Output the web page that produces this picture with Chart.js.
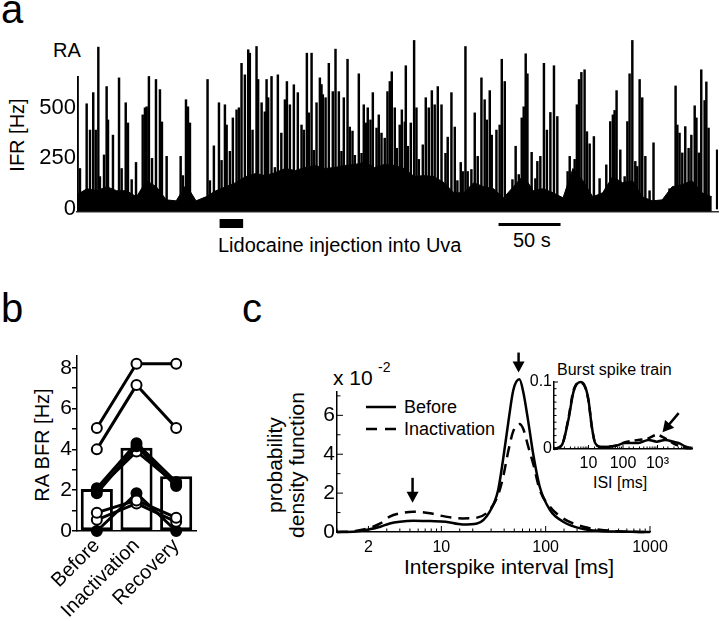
<!DOCTYPE html>
<html lang="en">
<head>
<meta charset="UTF-8">
<title>RA firing during Uva inactivation</title>
<script src="https://cdn.jsdelivr.net/npm/chart.js"></script>
<style>
  body { margin: 0; background: #fff; }
  #page { position: relative; width: 720px; height: 621px; overflow: hidden; }
  canvas { position: absolute; }
  .t { position: absolute; white-space: nowrap; line-height: 1; color: #000;
       font-family: 'Liberation Sans', Arial, sans-serif; }
  .rot { transform: translate(-50%, -50%) rotate(-90deg); text-align: center; }
</style>
</head>
<body>
<div id="page">
  <div class="t" style="left:1px; top:-11px; font-size:40px;">a</div>
  <div class="t" style="left:1px; top:288px; font-size:40px;">b</div>
  <div class="t" style="left:242px; top:288px; font-size:40px;">c</div>

  <div class="t" style="left:53px; top:40px; font-size:20px;">RA</div>
  <div class="t rot" style="left:17px; top:135px; font-size:20px;">IFR [Hz]</div>
  <div class="t" style="left:218px; top:235px; font-size:20px;">Lidocaine injection into Uva</div>
  <div class="t" style="left:513px; top:230px; font-size:20px;">50 s</div>

  <div class="t rot" style="left:42px; top:445px; font-size:20px;">RA BFR [Hz]</div>

  <div class="t rot" style="left:286px; top:465px; font-size:21px; line-height:22px;">probability<br>density function</div>
  <div class="t" style="left:333px; top:367px; font-size:21px;">x 10</div>
  <div class="t" style="left:378px; top:360px; font-size:14px;">-2</div>
  <div class="t" style="left:404px; top:398px; font-size:18px;">Before</div>
  <div class="t" style="left:404px; top:420px; font-size:18px;">Inactivation</div>
  <div class="t" style="left:404px; top:556px; font-size:21px;">Interspike interval [ms]</div>
  <div class="t" style="left:557px; top:362px; font-size:16px;">Burst spike train</div>
  <div class="t" style="left:593px; top:475px; font-size:16px;">ISI [ms]</div>

  <canvas id="ifr" width="720" height="205" style="left:0; top:27px;"></canvas>
  <canvas id="bfr" width="212" height="280" style="left:0; top:340px;"></canvas>
  <canvas id="isi" width="372" height="220" style="left:300px; top:340px;"></canvas>
  <canvas id="burst" width="195" height="120" style="left:515px; top:365px;"></canvas>
</div>

<script>
// ---- panel a: instantaneous firing rate trace (s, Hz) ----
const spikeTimes = [
  0.5, 2.4, 7.8, 10.5, 13.1, 15.1, 17.2, 18.5, 21.8, 23.9,
  25, 29, 33.9, 36, 39.3, 41.1, 44.1, 47.6, 53, 54.8,
  56.2, 58, 60.5, 63.7, 66.9, 68.5, 72.3, 83.6, 85.4, 87.9,
  89.5, 91.1, 105.3, 107.2, 110.4, 114.5, 116.6, 119.3, 120.7, 123.3,
  125.7, 128.7, 130.6, 132.7, 135.4, 138.1, 139.4, 141.6, 144.8, 146.1,
  148.9, 151.5, 152.9, 154.2, 156.9, 159.6, 162, 164.8, 167.7, 169.3,
  171.7, 174.9, 178.1, 181.1, 183, 185.4, 187, 189.2, 191, 193.2,
  195.9, 197.2, 198.3, 200.5, 203.1, 205.3, 206.3, 208.5, 211.2, 213.3,
  215.2, 218.2, 220, 222.2, 224.1, 227.3, 229.5, 231.3, 232.9, 234.5,
  236.7, 238.6, 241.6, 243.4, 245.6, 248.2, 250.4, 252.3, 253.9, 256.3,
  257.9, 260.3, 262, 264.4, 265.2, 266.8, 269.2, 271.9, 273.8, 275.7,
  278.9, 281.3, 283.7, 286.2, 288.5, 291, 294, 297.2, 299, 302,
  304.7, 306.8, 309.5, 311.1, 313.3, 315.1, 318.1, 320.8, 323.2, 326.2,
  328.8, 330.5, 332.9, 334.5, 338.3, 340.9, 342.6, 345, 351.2, 353.8,
  356.3, 358.7, 360.3, 361.9, 363.3, 364.3, 366.7, 369.7, 371.3, 373.7,
  376.6, 379, 381.8, 384.7, 387.4, 395.7, 397.4, 401.4, 403.2, 404.9,
  406.8, 409.4, 411.3, 413.5, 416.9, 421.5, 426.9, 430.1, 432.2, 433.6,
  435.2, 438.2, 441.7, 443.9, 445.7, 447.9, 450.3, 451.9, 453.8, 455.9,
  458.4, 461.8, 465, 477.9, 480.4, 482.8, 484.2, 486, 488.2, 490.6,
  493.3, 495.5, 498.2, 499.6, 501.6, 503.5, 506.2, 507.6, 509.4, 516.3
];
const spikeRates = [
  655, 200, 520, 390, 575, 390, 800, 160, 267, 605,
  440, 365, 648, 200, 525, 425, 145, 230, 465, 500,
  505, 655, 250, 640, 590, 430, 260, 260, 165, 540,
  505, 425, 640, 140, 312, 525, 240, 515, 415, 285,
  450, 490, 500, 720, 663, 787, 770, 390, 803, 640,
  525, 480, 640, 550, 655, 205, 663, 375, 540, 630,
  515, 614, 575, 415, 390, 770, 475, 770, 290, 525,
  648, 615, 565, 550, 720, 185, 580, 790, 580, 285,
  550, 740, 405, 385, 265, 668, 275, 515, 425, 500,
  440, 575, 400, 465, 375, 350, 580, 630, 678, 500,
  300, 415, 490, 430, 708, 310, 425, 833, 500, 245,
  317, 550, 500, 585, 515, 605, 515, 275, 355, 575,
  405, 140, 230, 185, 803, 185, 195, 475, 260, 648,
  540, 440, 585, 365, 390, 415, 740, 630, 145, 310,
  170, 450, 505, 767, 668, 100, 280, 150, 235, 260,
  720, 390, 477, 708, 457, 185, 260, 245, 515, 640,
  675, 688, 382, 322, 358, 150, 218, 432, 465, 487,
  585, 292, 160, 432, 668, 833, 235, 210, 640, 550,
  260, 90, 327, 100, 105, 608, 415, 375, 277, 407,
  300, 365, 510, 450, 277, 688, 536, 628, 400, 292
];
// dense background activity (envelope of the black mass), Hz
const floorTimes = [0, 8, 16, 24, 32, 40, 48, 56, 64, 72, 80, 88, 96, 104, 112, 120, 128,
  136, 144, 152, 160, 168, 176, 184, 192, 200, 208, 216, 224, 232, 240, 248, 256, 264,
  272, 280, 288, 296, 304, 312, 320, 328, 336, 344, 352, 360, 368, 376, 384, 392, 400,
  408, 416, 424, 432, 440, 448, 456, 464, 472, 480, 488, 496, 504, 512];
const floorRates = [70, 100, 90, 110, 90, 90, 60, 140, 110, 45, 40, 120, 40, 60, 90, 110, 130,
  160, 175, 165, 180, 200, 190, 205, 215, 200, 205, 215, 220, 230, 205, 220, 215, 200,
  160, 165, 160, 130, 80, 80, 130, 110, 100, 55, 110, 165, 90, 100, 80, 55, 200,
  140, 60, 80, 160, 130, 140, 60, 40, 45, 110, 120, 140, 80, 60];
const ifrTicks = [0, 250, 500];
const lidocaineSec = [115, 134];
const scaleBarSec = [340, 390];

// ---- panel b: burst firing rate per bird ----
const conditions = ['Before', 'Inactivation', 'Recovery'];
const barMeans = [2.06, 4.08, 2.68];
const birdBefore = [5.05, 4.0, 2.1, 1.85, 2.0, 0.9, 0.55, 0];
const birdInact = [8.2, 7.15, 4.3, 4.15, 3.9, 1.5, 1.35, 1.85];
const birdRecov = [8.2, 5.05, 2.4, 2.2, 2.3, 0.65, 0.45, 0];
const birdFilled = [false, false, true, true, false, false, false, true];
const bfrTicks = [0, 1, 2, 3, 4, 5, 6, 7, 8];
const bfrLabels = [0, 2, 4, 6, 8];

// ---- panel c: ISI distributions (pdf x 10^-2) ----
const isiMain = [1, 1.5, 2, 2.6, 3.2, 4, 5.4, 7.8, 11, 16, 22, 29, 35, 39, 44, 49, 56, 61, 68, 76, 88, 110, 147, 230, 330, 520, 1000];
const pdfBefore = [0, 0.03, 0.13, 0.27, 0.44, 0.53, 0.58, 0.56, 0.53, 0.39, 0.44, 1.04, 2.15, 3.7, 5.7, 7.3, 7.85, 7.2, 5.7, 4.0, 2.3, 1.13, 0.53, 0.15, 0.05, 0.02, 0];
const pdfInact = [0, 0.05, 0.19, 0.44, 0.79, 0.96, 1.04, 0.96, 0.79, 0.70, 0.74, 1.13, 1.9, 2.8, 4.2, 5.2, 5.55, 5.3, 4.4, 3.5, 2.15, 1.3, 0.7, 0.27, 0.12, 0.03, 0];
const pdfTicks = [0, 1, 2, 3, 4, 5, 6, 7];
const pdfLabels = [0, 2, 4, 6];
const isiLabels = [2, 10, 100, 1000];
const arrowIsi = [5.3, 55];
const arrowPdf = [1.5, 8.2];

// inset: burst spike train
const isiInset = [1, 1.7, 2.6, 3.7, 5.8, 8, 10, 12.5, 15.6, 24, 59, 115, 280, 550, 950, 1660, 3240, 4070, 6300, 8900, 10000];
const burstBefore = [0, 0.006, 0.043, 0.086, 0.1, 0.093, 0.073, 0.033, 0.009, 0.003, 0.0045, 0.009, 0.009, 0.0135, 0.011, 0.0135, 0.010, 0.009, 0.004, 0.0015, 0.001];
const burstInact = [0, 0.006, 0.045, 0.088, 0.099, 0.092, 0.072, 0.033, 0.009, 0.003, 0.005, 0.01, 0.0135, 0.016, 0.021, 0.016, 0.007, 0.005, 0.0015, 0.001, 0.001];
const insetYTicks = [0, 0.01, 0.02, 0.03, 0.04, 0.05, 0.06, 0.07, 0.08, 0.09, 0.1];
const insetYLabels = [0, 0.1];
const insetXLabels = [10, 100, 1000];
const insetXText = ['10', '100', '10³'];
const insetArrow = [1400, 0.025];

Chart.defaults.font.family = "'Liberation Sans', Arial, sans-serif";
Chart.defaults.color = '#000';

const pts = (xs, ys) => xs.map((v, i) => ({x: v, y: ys[i]}));
const near = (list, v) => list.findIndex(l => Math.abs(l - v) < 1e-6 * Math.max(1, Math.abs(l)));
const common = {
  responsive: false, animation: false, events: [],
  plugins: {legend: {display: false}, tooltip: {enabled: false}}
};

// bars under the trace (lidocaine period and 50 s scale)
const panelAMarks = {
  id: 'panelAMarks',
  afterDraw(chart) {
    const {ctx, scales: {x}, chartArea} = chart;
    ctx.save();
    ctx.fillStyle = '#000';
    let a = x.getPixelForValue(lidocaineSec[0]), b = x.getPixelForValue(lidocaineSec[1]);
    ctx.fillRect(a, chartArea.bottom + 7, b - a, 9);
    a = x.getPixelForValue(scaleBarSec[0]); b = x.getPixelForValue(scaleBarSec[1]);
    ctx.fillRect(a, chartArea.bottom + 11, b - a, 3);
    ctx.restore();
  }
};

// matlab style ticks pointing into the axes
const innerTicks = {
  id: 'innerTicks',
  afterDraw(chart, args, opts) {
    const {ctx, scales: {x, y}} = chart;
    ctx.save();
    ctx.strokeStyle = '#000';
    ctx.lineWidth = 1;
    x.ticks.forEach(t => {
      const p = x.getPixelForValue(t.value), l = t.label ? opts.major : opts.minor;
      ctx.beginPath(); ctx.moveTo(p, x.top); ctx.lineTo(p, x.top - l); ctx.stroke();
    });
    y.ticks.forEach(t => {
      const p = y.getPixelForValue(t.value), l = t.label ? opts.major : opts.minor;
      ctx.beginPath(); ctx.moveTo(y.right, p); ctx.lineTo(y.right + l, p); ctx.stroke();
    });
    ctx.restore();
  }
};

const arrowMarks = {
  id: 'arrowMarks',
  afterDatasetsDraw(chart, args, opts) {
    const {ctx, scales: {x, y}} = chart;
    ctx.save();
    ctx.fillStyle = '#000';
    ctx.strokeStyle = '#000';
    ctx.lineWidth = 2.5;
    (opts.list || []).forEach(a => {
      const tx = x.getPixelForValue(a.x), ty = y.getPixelForValue(a.y);
      const ux = a.dx, uy = a.dy, head = 11, half = 6;
      ctx.beginPath();
      ctx.moveTo(tx + ux * head * 0.8, ty + uy * head * 0.8);
      ctx.lineTo(tx + ux * a.len, ty + uy * a.len);
      ctx.stroke();
      ctx.beginPath();
      ctx.moveTo(tx, ty);
      ctx.lineTo(tx + ux * head - uy * half, ty + uy * head + ux * half);
      ctx.lineTo(tx + ux * head + uy * half, ty + uy * head - ux * half);
      ctx.closePath();
      ctx.fill();
    });
    ctx.restore();
  }
};

const legendSamples = {
  id: 'legendSamples',
  afterDraw(chart) {
    const {ctx, chartArea: ca} = chart;
    ctx.save();
    ctx.strokeStyle = '#000';
    ctx.lineWidth = 2.5;
    ctx.beginPath(); ctx.moveTo(ca.left + 29, ca.top + 15); ctx.lineTo(ca.left + 59, ca.top + 15); ctx.stroke();
    ctx.setLineDash([11, 8]);
    ctx.beginPath(); ctx.moveTo(ca.left + 29, ca.top + 37); ctx.lineTo(ca.left + 59, ca.top + 37); ctx.stroke();
    ctx.restore();
  }
};

// a
new Chart(document.getElementById('ifr'), {
  type: 'bar',
  data: {
    datasets: [
      {type: 'line', data: pts(floorTimes, floorRates), borderColor: '#000', borderWidth: 1,
       backgroundColor: '#000', fill: {value: -12}, pointRadius: 0, tension: 0},
      {type: 'bar', data: pts(spikeTimes, spikeRates), backgroundColor: '#000', barThickness: 1.8}
    ]
  },
  options: {
    ...common,
    layout: {padding: {top: 10, right: 2, bottom: 17, left: 0}},
    scales: {
      x: {type: 'linear', min: 0, max: 517, offset: false,
          ticks: {display: false}, grid: {display: false, drawTicks: false},
          border: {color: '#333', width: 1.5},
          afterFit: s => { s.height = 3; s.paddingLeft = 0; s.paddingRight = 0; }},
      y: {min: -15, max: 850,
          afterBuildTicks: s => { s.ticks = ifrTicks.map(v => ({value: v})); },
          ticks: {font: {size: 22}, padding: 1, autoSkip: false},
          grid: {display: false, drawTicks: false}, border: {display: false},
          afterFit: s => { s.width = 77; s.paddingTop = 0; s.paddingBottom = 0; }}
    }
  },
  plugins: [panelAMarks]
});

// b
new Chart(document.getElementById('bfr'), {
  type: 'bar',
  data: {
    labels: conditions,
    datasets: [
      {type: 'bar', data: barMeans, backgroundColor: '#fff', borderColor: '#000', borderWidth: 3,
       borderSkipped: false, barPercentage: 0.81, categoryPercentage: 1, order: 10},
      ...birdBefore.map((v, i) => ({
        type: 'line', data: [birdBefore[i], birdInact[i], birdRecov[i]],
        borderColor: '#000', borderWidth: 3, pointRadius: 5, pointBorderWidth: 2,
        pointBorderColor: '#000', pointBackgroundColor: birdFilled[i] ? '#000' : '#fff',
        clip: false, order: 1
      }))
    ]
  },
  options: {
    ...common,
    layout: {padding: {top: 15.5, right: 16, bottom: 0, left: 0}},
    scales: {
      x: {grid: {display: false, drawTicks: false}, border: {color: '#000', width: 1.5},
          ticks: {font: {size: 20}, minRotation: 45, maxRotation: 45, autoSkip: false, padding: 3},
          afterFit: s => { s.height = 89; s.paddingLeft = 0; s.paddingRight = 0; }},
      y: {min: 0, max: 8.6,
          afterBuildTicks: s => { s.ticks = bfrTicks.map(v => ({value: v})); },
          ticks: {font: {size: 21}, padding: 0, autoSkip: false,
                  callback: v => bfrLabels.includes(v) ? String(v) : ''},
          grid: {drawOnChartArea: false, tickLength: 5, color: '#000', lineWidth: 1.5},
          border: {color: '#000', width: 1.5},
          afterFit: s => { s.width = 77; s.paddingTop = 0; s.paddingBottom = 0; }}
    }
  }
});

// c
new Chart(document.getElementById('isi'), {
  type: 'line',
  data: {
    datasets: [
      {label: 'Before', data: pts(isiMain, pdfBefore), borderColor: '#000', borderWidth: 2.5,
       pointRadius: 0, cubicInterpolationMode: 'monotone', clip: false},
      {label: 'Inactivation', data: pts(isiMain, pdfInact), borderColor: '#000', borderWidth: 2.5,
       borderDash: [11, 7], pointRadius: 0, cubicInterpolationMode: 'monotone', clip: false}
    ]
  },
  options: {
    ...common,
    plugins: {...common.plugins,
      innerTicks: {major: 6, minor: 3.5},
      arrowMarks: {list: arrowIsi.map((v, i) => ({x: v, y: arrowPdf[i], dx: 0, dy: -1, len: i ? 20 : 25}))}
    },
    layout: {padding: {top: 52, right: 22, bottom: 0, left: 0}},
    scales: {
      x: {type: 'logarithmic', min: 1, max: 1000,
          ticks: {font: {size: 16}, autoSkip: false, maxRotation: 0, padding: 6,
                  callback: v => near(isiLabels, v) >= 0 ? String(isiLabels[near(isiLabels, v)]) : ''},
          grid: {display: false, drawTicks: false}, border: {color: '#000', width: 1.5},
          afterFit: s => { s.height = 28; s.paddingLeft = 0; s.paddingRight = 0; }},
      y: {min: 0, max: 7.2,
          afterBuildTicks: s => { s.ticks = pdfTicks.map(v => ({value: v})); },
          ticks: {font: {size: 21}, padding: 2, autoSkip: false,
                  callback: v => pdfLabels.includes(v) ? String(v) : ''},
          grid: {display: false, drawTicks: false}, border: {color: '#000', width: 1.5},
          afterFit: s => { s.width = 37; s.paddingTop = 0; s.paddingBottom = 0; }}
    }
  },
  plugins: [innerTicks, arrowMarks, legendSamples]
});

// c inset
new Chart(document.getElementById('burst'), {
  type: 'line',
  data: {
    datasets: [
      {data: pts(isiInset, burstBefore), borderColor: '#000', borderWidth: 2.5,
       pointRadius: 0, cubicInterpolationMode: 'monotone', clip: false},
      {data: pts(isiInset, burstInact), borderColor: '#000', borderWidth: 2.5, borderDash: [8, 5],
       pointRadius: 0, cubicInterpolationMode: 'monotone', clip: false}
    ]
  },
  options: {
    ...common,
    plugins: {...common.plugins,
      innerTicks: {major: 4, minor: 2.5},
      arrowMarks: {list: [{x: insetArrow[0], y: insetArrow[1], dx: 0.645, dy: -0.766, len: 25}]}
    },
    layout: {padding: {top: 17, right: 18, bottom: 0, left: 0}},
    scales: {
      x: {type: 'logarithmic', min: 1, max: 10000,
          ticks: {font: {size: 16}, autoSkip: false, maxRotation: 0, padding: 5,
                  callback: v => near(insetXLabels, v) >= 0 ? insetXText[near(insetXLabels, v)] : ''},
          grid: {display: false, drawTicks: false}, border: {color: '#000', width: 1.5},
          afterFit: s => { s.height = 36; s.paddingLeft = 0; s.paddingRight = 0; }},
      y: {min: 0, max: 0.1,
          afterBuildTicks: s => { s.ticks = insetYTicks.map(v => ({value: v})); },
          ticks: {font: {size: 16}, padding: 2, autoSkip: false,
                  callback: v => near(insetYLabels, v) >= 0 ? String(insetYLabels[near(insetYLabels, v)]) : ''},
          grid: {display: false, drawTicks: false}, border: {color: '#000', width: 1.5},
          afterFit: s => { s.width = 39; s.paddingTop = 0; s.paddingBottom = 0; }}
    }
  },
  plugins: [innerTicks, arrowMarks]
});
</script>
</body>
</html>
